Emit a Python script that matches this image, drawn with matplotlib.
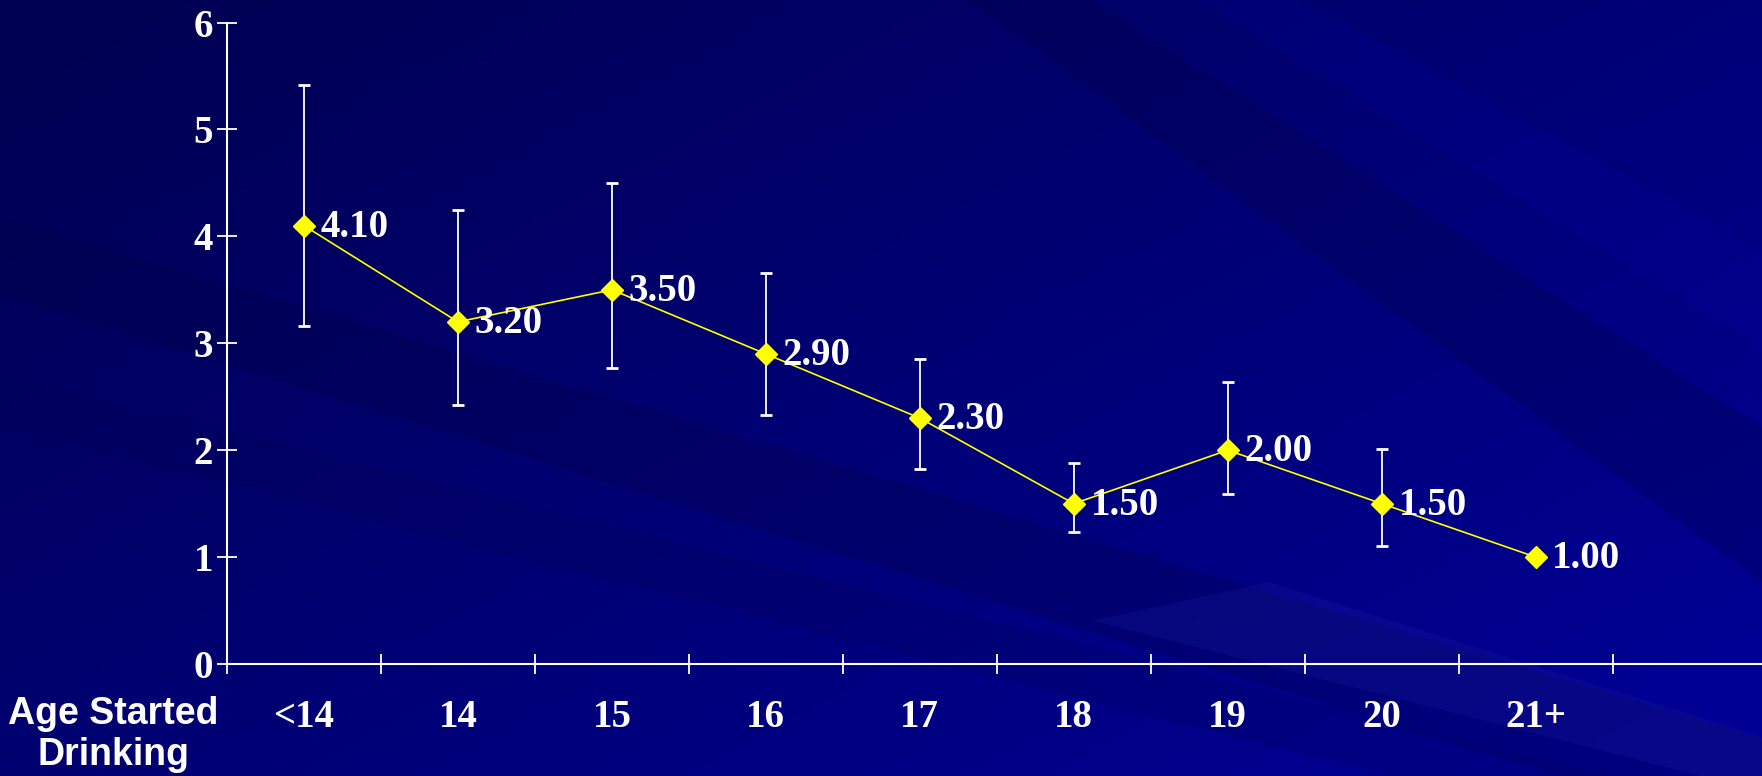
import numpy as np
import matplotlib.pyplot as plt
from matplotlib.colors import LinearSegmentedColormap

ages = ['<14', '14', '15', '16', '17', '18', '19', '20', '21+']
means = [4.10, 3.20, 3.50, 2.90, 2.30, 1.50, 2.00, 1.50, 1.00]
ci_low = [3.16, 2.42, 2.77, 2.33, 1.82, 1.23, 1.59, 1.10, np.nan]
ci_high = [5.42, 4.25, 4.50, 3.66, 2.85, 1.88, 2.64, 2.01, np.nan]

W, H = 1762, 776
fig = plt.figure(figsize=(W / 100, H / 100), dpi=100)

# slide-like background: dark navy gradient with a few diagonal streaks
bg = fig.add_axes([0, 0, 1, 1], zorder=-10)
gx, gy = np.meshgrid(np.linspace(0, 1, 400), np.linspace(0, 1, 200))
grad = 0.55 * gx + 0.45 * gy
cmap = LinearSegmentedColormap.from_list('navy', ['#000050', '#000098'])
bg.imshow(grad, cmap=cmap, extent=[0, 1, 0, 1], aspect='auto', origin='upper')
streaks = [
    ([0.0, 0.0, 1.0, 1.0], [0.62, 0.72, 0.05, -0.08], '#000040', 0.25),
    ([0.0, 0.0, 1.0, 1.0], [0.45, 0.52, -0.05, -0.12], '#000050', 0.2),
    ([0.55, 0.62, 1.0, 1.0], [1.0, 1.0, 0.45, 0.25], '#000040', 0.25),
    ([0.68, 0.74, 1.0, 1.0], [1.0, 1.0, 0.68, 0.55], '#0000b0', 0.15),
    ([0.62, 0.72, 1.0, 1.0], [0.20, 0.25, 0.05, -0.02], '#3030c0', 0.15),
]
for xs, ys, c, a in streaks:
    bg.fill(xs, ys, color=c, alpha=a, lw=0)
bg.set_xlim(0, 1)
bg.set_ylim(0, 1)
bg.axis('off')

ax = fig.add_axes([227 / W, 112 / H, 1 - 227 / W, (664 - 22.5) / H])
ax.set_facecolor('none')

x = np.arange(len(ages))
ax.plot(x, means, color='#ffff00', lw=1.2, marker='D', ms=11,
        markerfacecolor='#ffff00', markeredgecolor='#ffff00', zorder=4)

lo = np.array(ci_low)
hi = np.array(ci_high)
m = np.array(means)
ok = ~np.isnan(lo)
ax.errorbar(x[ok], m[ok], yerr=[m[ok] - lo[ok], hi[ok] - m[ok]], fmt='none',
            ecolor='white', elinewidth=1.3, capsize=4.5, capthick=2, zorder=3)

for xi, v in zip(x, means):
    ax.annotate(f'{v:.2f}', (xi, v), xytext=(12, -1), textcoords='offset points',
                ha='left', va='center', color='white', fontsize=28,
                fontweight='bold', family='Liberation Serif', zorder=5)

ax.set_ylim(0, 6)
ax.set_xlim(-0.5, 9.47)
ax.set_yticks(range(7))
ax.set_xticks(np.arange(-0.5, 9, 1))
ax.set_xticklabels([])
ax.set_xticks(x, minor=True)
ax.set_xticklabels(ages, minor=True)

for s in ['top', 'right']:
    ax.spines[s].set_visible(False)
for s in ['left', 'bottom']:
    ax.spines[s].set_color('white')
    ax.spines[s].set_linewidth(1.5)

ax.tick_params(axis='both', which='major', direction='inout', length=14,
               width=1.3, color='white', labelcolor='white')
ax.tick_params(axis='y', pad=3)
ax.tick_params(axis='x', which='minor', length=0, pad=25, labelcolor='white')
for lab in ax.get_yticklabels() + ax.get_xticklabels(minor=True):
    lab.set_fontsize(28)
    lab.set_fontweight('bold')
    lab.set_family('Liberation Serif')

fig.text(113 / W, 1 - 696 / H, 'Age Started\nDrinking', ha='center', va='top',
         color='white', fontsize=27, fontweight='bold', family='Liberation Sans',
         linespacing=1.18)

fig.savefig('out.png', dpi=100)
